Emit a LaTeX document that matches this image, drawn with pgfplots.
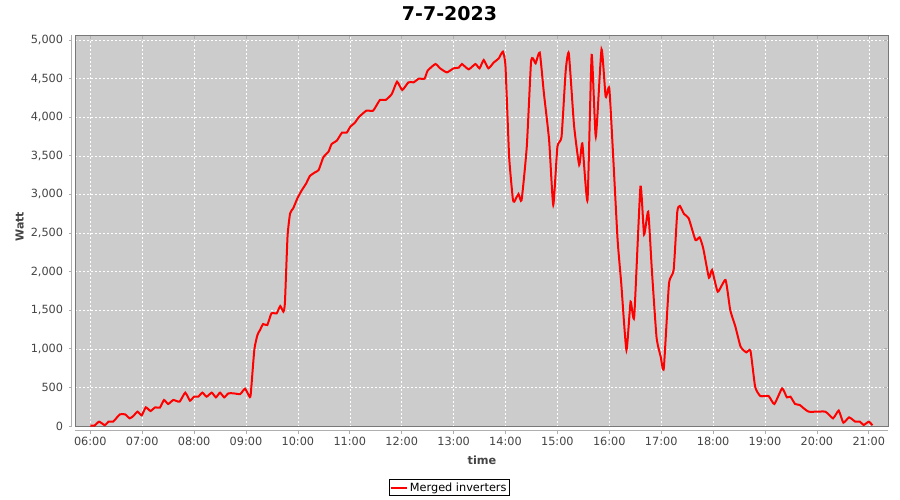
\documentclass[border=0pt]{standalone}
\usepackage{fontspec}
\setmainfont{DejaVu Sans}
\usepackage{pgfplots}
\usepackage{pgfplotstable}
\pgfplotsset{compat=1.18}
\definecolor{plotbg}{RGB}{204,204,204}
\definecolor{tickgray}{RGB}{68,68,68}
\definecolor{bordergray}{RGB}{120,120,120}
\definecolor{axgray}{RGB}{175,175,175}
\pgfplotstableread{
h w
6.00 5
6.08 5
6.17 56
6.28 10
6.35 56
6.44 56
6.51 108
6.57 151
6.67 151
6.76 99
6.83 130
6.91 186
6.99 138
7.07 242
7.16 194
7.25 242
7.34 237
7.42 337
7.50 285
7.60 337
7.72 315
7.83 432
7.92 328
8.00 380
8.08 380
8.16 432
8.24 380
8.34 432
8.42 371
8.50 432
8.58 371
8.66 423
8.76 423
8.89 414
8.98 484
9.06 389
9.09 402
9.16 985
9.22 1179
9.27 1243
9.33 1321
9.41 1308
9.49 1459
9.59 1459
9.66 1554
9.72 1481
9.75 1597
9.80 2453
9.85 2755
9.91 2820
9.99 2949
10.07 3048
10.16 3143
10.23 3238
10.33 3286
10.40 3316
10.49 3480
10.59 3554
10.65 3653
10.75 3696
10.85 3800
10.94 3800
11.01 3877
11.10 3930
11.17 3998
11.32 4085
11.45 4085
11.58 4223
11.69 4223
11.81 4301
11.91 4460
12.01 4352
12.13 4452
12.23 4452
12.33 4499
12.44 4499
12.50 4603
12.65 4689
12.74 4633
12.87 4581
13.00 4633
13.10 4642
13.16 4689
13.29 4620
13.42 4689
13.50 4633
13.58 4741
13.67 4633
13.77 4706
13.87 4762
13.95 4849
14.00 4655
14.07 3489
14.14 2950
14.17 2906
14.25 3005
14.31 2927
14.41 3618
14.49 4698
14.53 4762
14.58 4698
14.66 4836
14.74 4309
14.84 3705
14.92 2863
15.00 3618
15.08 3748
15.16 4603
15.22 4827
15.32 3899
15.42 3381
15.48 3661
15.58 2927
15.66 4806
15.74 3748
15.85 4879
15.93 4266
16.00 4374
16.08 3424
16.16 2409
16.23 1848
16.33 984
16.41 1611
16.48 1416
16.60 3100
16.67 2480
16.75 2776
16.82 2021
16.91 1150
16.99 898
17.05 747
17.15 1843
17.24 2021
17.31 2776
17.36 2850
17.44 2746
17.53 2690
17.66 2409
17.74 2444
17.81 2301
17.92 1921
17.98 2021
18.09 1740
18.24 1891
18.33 1502
18.43 1286
18.53 1027
18.64 954
18.72 975
18.81 509
18.91 388
19.07 388
19.18 285
19.33 488
19.42 371
19.49 380
19.58 285
19.67 272
19.84 186
20.16 186
20.31 99
20.42 199
20.51 43
20.62 112
20.74 56
20.83 56
20.90 13
21.00 56
21.07 9
}\datatable
\begin{document}
\begin{tikzpicture}
\begin{axis}[
  name=ax,
  at={(75.3pt,73.3pt)}, anchor=south west,
  scale only axis, width=812.7pt, height=391.4pt,
  xmin=5.711, xmax=21.37, ymin=-9, ymax=5061,
  axis background/.style={fill=plotbg},
  axis line style={draw=bordergray, line width=0.8pt},
  xtick={6,...,21},
  xticklabels={06:00,07:00,08:00,09:00,10:00,11:00,12:00,13:00,14:00,15:00,16:00,17:00,18:00,19:00,20:00,21:00},
  ytick={0,500,...,5000},
  scaled y ticks=false,
  /pgf/number format/1000 sep={,},
  /pgf/number format/assume math mode=true,
  grid=major,
  major grid style={draw=white, line width=0.6pt, dash pattern=on 2pt off 2pt},
  tick align=outside, major tick length=3pt,
  xtick style={draw=axgray, line width=0.8pt, yshift=-4pt},
  ytick style={draw=axgray, line width=0.8pt, xshift=-3.6pt},
  xticklabel style={font=\fontsize{11.3pt}{13pt}\selectfont, text=tickgray, inner sep=0pt},
  yticklabel style={font=\fontsize{11.3pt}{13pt}\selectfont, text=tickgray, inner sep=0pt},
  xticklabel shift=7pt,
  yticklabel shift=9pt,
  legend style={at={(0.4601,-0.1561)}, anchor=center, draw=black, line width=0.8pt, fill=white,
    font=\fontsize{11.3pt}{13pt}\selectfont, inner xsep=1pt, inner ysep=1pt},
  legend image code/.code={\draw[red, line width=2pt] (0pt,0pt) -- (16pt,0pt);},
]
\addplot[red, line width=2pt, smooth, tension=0.3, mark=none] table[x=h, y=w]{\datatable};
\addlegendentry{Merged inverters}
\end{axis}
\draw[axgray, line width=0.8pt] ([xshift=-3.6pt]ax.south west) -- ([xshift=-3.6pt]ax.north west);
\draw[axgray, line width=0.8pt] ([yshift=-4pt]ax.south west) -- ([yshift=-4pt]ax.south east);
\node[font=\fontsize{19pt}{22pt}\selectfont\bfseries] at (449.5pt,486pt) {7-7-2023};
\node[font=\fontsize{11pt}{13pt}\selectfont\bfseries, text=tickgray, rotate=90] at (19.7pt,273.3pt) {Watt};
\node[font=\fontsize{11.3pt}{13pt}\selectfont\bfseries, text=tickgray] at (482pt,40pt) {time};
\pgfresetboundingbox
\path (0pt,0pt) rectangle (900pt,500pt);
\end{tikzpicture}
\end{document}
